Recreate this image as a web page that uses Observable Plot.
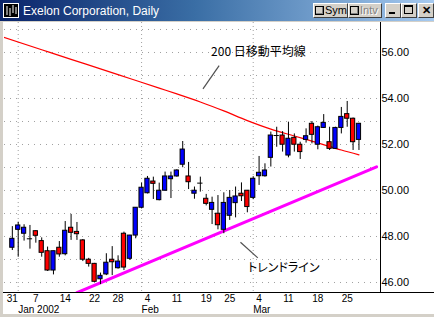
<!DOCTYPE html>
<html>
<head>
<meta charset="utf-8">
<script src="https://cdn.jsdelivr.net/npm/d3@7"></script>
<script src="https://cdn.jsdelivr.net/npm/@observablehq/plot@0.6"></script>
<style>
  html, body { margin: 0; padding: 0; background: #d4d0c8; }
  #win { position: relative; width: 434px; height: 317px; background: #d4d0c8; overflow: hidden; }
  #title { position: absolute; left: 0; top: 0; width: 434px; height: 21px;
           background: linear-gradient(to right, #0a246a 0%, #3a6ea5 45%, #a6caf0 100%); }
  #ttext { position: absolute; left: 23px; top: 4px; font: 12px "Liberation Sans", Arial, sans-serif; color: #fff; white-space: nowrap; }
  .btn { position: absolute; top: 3px; height: 15px; background: #d4d0c8; box-sizing: border-box;
         border-top: 1px solid #fff; border-left: 1px solid #fff; border-right: 1px solid #404040; border-bottom: 1px solid #404040;
         font: 11px "Liberation Sans", Arial, sans-serif; line-height: 13px; color: #000; }
  .chk { position: absolute; left: 1px; top: 2px; width: 7px; height: 7px; border: 1px solid #000; background: #d4d0c8;
         box-shadow: inset -1px -1px 0 #808080; }
  #chart { position: absolute; left: 3px; top: 22px; }
  g[font-family*="CJK"] text { font-feature-settings: "palt" 1; }
</style>
</head>
<body>
<div id="win">
  <div id="title">
    <svg style="position:absolute;left:3px;top:3px" width="16" height="15">
      <rect x="0.5" y="0.5" width="15" height="14" fill="#000" stroke="#fff"/>
      <line x1="4" y1="3" x2="4" y2="12" stroke="#fff"/><line x1="7" y1="5" x2="7" y2="13" stroke="#fff"/>
      <line x1="10" y1="2" x2="10" y2="10" stroke="#fff"/><line x1="13" y1="4" x2="13" y2="11" stroke="#fff"/>
    </svg>
    <span id="ttext">Exelon Corporation, Daily</span>
    <div class="btn" style="left:313px;width:35px"><div class="chk"></div><span style="position:absolute;left:11px;top:0">Sym</span></div>
    <div class="btn" style="left:348px;width:34px"><div class="chk"></div><span style="position:absolute;left:11px;top:0;color:#808080;text-shadow:1px 1px 0 #fff">Intv</span></div>
    <div class="btn" style="left:385px;width:16px"><div style="position:absolute;left:3px;top:8px;width:6px;height:2px;background:#000"></div></div>
    <div class="btn" style="left:401px;width:16px"><div style="position:absolute;left:2px;top:1px;width:7px;height:6px;border:1px solid #000;border-top-width:2px"></div></div>
    <div class="btn" style="left:418px;width:16px"><span style="position:absolute;left:3px;top:0;font-weight:bold;font-size:11px">✕</span></div>
  </div>
  <div id="chart"></div>
</div>
<script>
// Trading days shown (Dec 31 2001 – Mar 27 2002)
const dates = [
  "2001-12-31",
  "2002-01-02","2002-01-03","2002-01-04","2002-01-07","2002-01-08","2002-01-09","2002-01-10","2002-01-11",
  "2002-01-14","2002-01-15","2002-01-16","2002-01-17","2002-01-18","2002-01-22","2002-01-23","2002-01-24",
  "2002-01-25","2002-01-28","2002-01-29","2002-01-30","2002-01-31",
  "2002-02-01","2002-02-04","2002-02-05","2002-02-06","2002-02-07","2002-02-08","2002-02-11","2002-02-12",
  "2002-02-13","2002-02-14","2002-02-15","2002-02-19","2002-02-20","2002-02-21","2002-02-22","2002-02-25",
  "2002-02-26","2002-02-27","2002-02-28",
  "2002-03-01","2002-03-04","2002-03-05","2002-03-06","2002-03-07","2002-03-08","2002-03-11","2002-03-12",
  "2002-03-13","2002-03-14","2002-03-15","2002-03-18","2002-03-19","2002-03-20","2002-03-21","2002-03-22",
  "2002-03-25","2002-03-26","2002-03-27"
];
const openV  = [47.51,48.29,48.12,47.90,48.23,47.80,47.36,46.52,47.51,47.23,48.38,48.20,47.83,46.99,46.81,46.14,46.35,46.99,46.62,48.12,
                47.03,48.04,49.25,49.88,50.39,49.58,49.99,50.49,50.61,51.12,50.61,49.86,50.32,49.64,49.16,48.99,48.29,48.90,49.45,49.86,
                49.99,49.68,50.62,50.62,51.42,52.39,52.39,51.52,52.29,51.99,52.20,52.90,51.99,52.72,52.10,51.81,52.72,53.32,53.12,52.20];
const highV  = [48.43,48.62,48.51,48.48,48.25,47.94,47.54,47.36,47.78,48.65,48.96,48.61,47.87,47.05,46.83,46.41,47.25,47.56,47.16,48.19,
                48.05,49.25,50.32,50.61,50.58,50.32,50.80,50.80,50.90,52.13,51.22,50.15,50.58,49.83,49.71,49.78,49.90,50.00,50.15,50.33,
                50.00,50.60,51.48,51.16,52.54,52.75,52.56,52.97,52.46,52.10,52.68,53.00,52.80,53.30,52.75,52.75,53.61,53.87,53.15,52.92];
const lowV   = [47.39,47.10,47.80,47.45,47.71,47.10,46.48,46.33,47.10,47.16,47.83,47.83,46.91,46.67,46.00,45.91,46.30,46.30,46.58,46.52,
                46.96,47.90,49.20,49.85,49.61,49.55,49.97,49.65,50.58,50.99,50.04,49.62,49.93,49.33,48.52,48.29,48.12,48.70,48.81,49.52,
                49.03,49.60,50.22,50.58,51.02,51.88,51.67,51.42,51.67,51.35,52.06,52.03,51.77,52.70,51.74,51.78,52.46,52.75,51.74,51.74];
const closeV = [47.90,48.48,48.38,47.90,48.03,47.29,46.52,47.36,47.22,48.25,48.16,48.10,46.99,46.81,46.03,46.29,46.86,46.88,46.91,46.65,
                48.04,49.25,50.12,50.51,50.29,49.99,50.61,50.61,50.87,51.78,50.36,49.99,50.32,49.42,49.46,48.49,49.46,49.68,49.74,49.75,
                49.28,50.51,50.77,50.87,52.39,52.39,51.99,52.25,51.99,51.67,52.36,52.42,52.75,52.94,51.81,52.72,53.20,53.12,52.10,52.90];

// 200-day moving average (read at selected days; index -2 lies before the first shown day)
const maIndex = [-2, 5, 10, 15, 20, 25, 28, 32, 36, 40, 44, 48, 52, 56, 59];
const maValue = [56.71,56.12,55.70,55.29,54.87,54.45,54.20,53.85,53.46,53.04,52.67,52.37,52.07,51.76,51.55];

// Trend line anchor points (day index, price)
const trendIndex = [11, 62];
const trendValue = [45.557, 51.026];

// Axis labels
const tickDates = ["2001-12-31","2002-01-07","2002-01-14","2002-01-22","2002-01-28","2002-02-04","2002-02-11",
                   "2002-02-19","2002-02-25","2002-03-04","2002-03-11","2002-03-18","2002-03-25"];
const tickLabels = ["31","7","14","22","28","4","11","19","25","4","11","18","25"];
const monthDates = ["2002-01-02","2002-02-01","2002-03-01"];
const monthLabels = ["Jan 2002","Feb","Mar"];
const yTicks = [46, 48, 50, 52, 54, 56];
const yGrid = [46, 47, 48, 49, 50, 51, 52, 53, 54, 55, 56, 57];

// Annotations
const annText = ["200 日移動平均線", "トレンドライン"];

const candles = dates.map((d, i) => ({i, date: d, open: openV[i], high: highV[i], low: lowV[i], close: closeV[i]}));
const bodies = candles.filter(d => d.open !== d.close);
const dojis = candles.filter(d => d.open === d.close);
const maRows = maIndex.map((x, k) => ({x, v: maValue[k]}));
const trendRows = trendIndex.map((x, k) => ({x, v: trendValue[k]}));
const ticks = tickDates.map((d, k) => ({x: dates.indexOf(d), label: tickLabels[k]}));
const months = monthDates.map((d, k) => ({x: dates.indexOf(d), label: monthLabels[k]}));
const annRows = [
  {x: 33.83, y: 56.0, label: annText[0]},
  {x: 40.1, y: 46.61, label: annText[1]}
];
const leaders = [
  {x1: 32.45, y1: 54.42, x2: 35.2, y2: 55.43},
  {x1: 38.83, y1: 47.75, x2: 41.78, y2: 47.07}
];

const xDom = [-4/3, 188/3];
const yDom = [45.565, 57.304];

const chart = Plot.plot({
  width: 431, height: 292,
  marginLeft: 1, marginRight: 54, marginTop: 0, marginBottom: 22,
  style: {fontFamily: '"Liberation Sans", Arial, sans-serif', fontSize: "11px", background: "#fff", overflow: "visible"},
  x: {domain: xDom, axis: null},
  y: {domain: yDom, axis: null},
  marks: [
    Plot.ruleY(yGrid, {stroke: "#a0a0a0", strokeDasharray: "1,5"}),
    Plot.ruleX(months, {x: "x", stroke: "#a0a0a0", strokeDasharray: "1,3"}),
    Plot.line(maRows, {x: "x", y: "v", stroke: "#ff0000", strokeWidth: 1.2, curve: "monotone-x", clip: true}),
    Plot.line(trendRows, {x: "x", y: "v", stroke: "#ff00ff", strokeWidth: 3, clip: true}),
    Plot.ruleX(candles, {x: "i", y1: "low", y2: "high", stroke: "#000", strokeWidth: 1}),
    Plot.rect(bodies, {x1: d => d.i - 0.36, x2: d => d.i + 0.36, y1: "open", y2: "close",
      fill: d => d.close > d.open ? "#0000ff" : "#ff0000", stroke: "#000", strokeWidth: 1}),
    Plot.ruleY(dojis, {y: "close", x1: d => d.i - 0.45, x2: d => d.i + 0.45, stroke: "#000", strokeWidth: 1}),
    Plot.link(leaders, {x1: "x1", y1: "y1", x2: "x2", y2: "y2", stroke: "#505050", strokeWidth: 1.2}),
    Plot.text(annRows, {x: "x", y: "y", text: "label", textAnchor: "start", lineAnchor: "middle",
      fontFamily: '"Noto Sans CJK JP", sans-serif', fontSize: 12, fill: "#000"}),
    Plot.axisY({anchor: "right", ticks: yTicks, tickSize: 0, tickPadding: 1, tickFormat: d => d.toFixed(2), fontSize: 11, fill: "#000"}),
    Plot.text(ticks, {x: "x", text: "label", frameAnchor: "bottom", dy: 9.4, lineAnchor: "bottom", fontSize: 10, fill: "#000"}),
    Plot.text(months, {x: "x", text: "label", frameAnchor: "bottom", dy: 20.6, lineAnchor: "bottom", textAnchor: "start", fontSize: 10, fill: "#000"}),
    Plot.ruleX([xDom[1]], {stroke: "#000"})
  ]
});
document.getElementById("chart").appendChild(chart);
// bottom border line of the chart window (spans plot and label area)
d3.select(chart).append("line")
  .attr("x1", 0).attr("x2", 431).attr("y1", 270.5).attr("y2", 270.5)
  .attr("stroke", "#000");
</script>
</body>
</html>
